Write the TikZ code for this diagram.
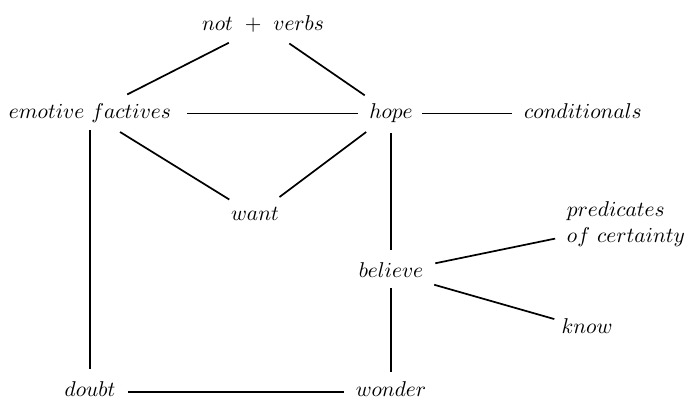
\documentclass[tikz,border=0pt]{standalone}
\begin{document}
\begin{tikzpicture}[x=0.467pt,y=-0.467pt,
  lbl/.style={inner sep=0pt,outer sep=0pt,text height=4.3pt,text depth=0pt},
  mlbl/.style={inner sep=0pt,outer sep=0pt,align=left},
  conn/.style={line width=0.8pt}]
\useasboundingbox (0,0) rectangle (688,400);
\node[lbl] (nv) at (263,25.4) {$not\ +\ verbs$};
\node[lbl] (ef) at (90,113.4) {$emotive\ factives$};
\node[lbl] (hope) at (391,113.4) {$hope$};
\node[lbl] (cond) at (583,113.4) {$conditionals$};
\node[lbl] (want) at (255,215.4) {$want$};
\node[lbl] (bel) at (391,272.4) {$believe$};
\node[mlbl] (pred) at (626,224) {$predicates$\\$of\ certainty$};
\node[lbl] (know) at (587,328.4) {$know$};
\node[lbl] (doubt) at (90,392) {$doubt$};
\node[lbl] (wonder) at (391,392) {$wonder$};
\draw[conn,shorten <=17.9pt,shorten >=19.5pt] (nv.center) -- (ef.center);
\draw[conn,shorten <=14.9pt,shorten >=14.9pt] (nv.center) -- (hope.center);
\draw[conn,shorten <=45.3pt,shorten >=15.4pt] (ef.center) -- (hope.center);
\draw[conn,shorten <=14.5pt,shorten >=33.2pt] (hope.center) -- (cond.center);
\draw[conn,shorten <=16.5pt,shorten >=14.1pt] (ef.center) -- (want.center);
\draw[conn,shorten <=14.5pt,shorten >=14.3pt] (hope.center) -- (want.center);
\draw[conn,shorten <=9.3pt,shorten >=10.5pt] (hope.center) -- (bel.center);
\draw[conn,shorten <=7.3pt,shorten >=9.5pt] (bel.center) -- (wonder.center);
\draw[conn,shorten <=7.8pt,shorten >=10.9pt] (ef.center) -- (doubt.center);
\draw[conn,shorten <=17.7pt,shorten >=21.9pt] (doubt.center) -- (wonder.center);
\draw[conn,shorten <=21.1pt,shorten >=33.8pt] (bel.center) -- (pred.center);
\draw[conn,shorten <=21.0pt,shorten >=15.9pt] (bel.center) -- (know.center);
\end{tikzpicture}
\end{document}
